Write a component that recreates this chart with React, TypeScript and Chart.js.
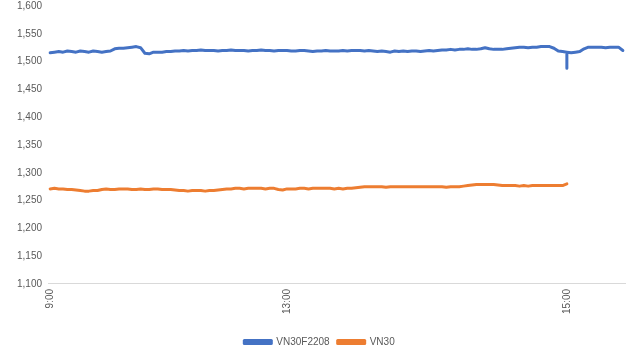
import React, { useEffect, useRef } from "react";
import { Chart, registerables } from "chart.js";

Chart.register(...registerables);

// Category positions (trading-minute index) that carry a time label
const TICK_POSITIONS = [0, 55, 120];
const TICK_LABELS = ["9:00", "13:00", "15:00"];

// VN30F2208 futures price, one value per index (0..133)
const VN30F2208 = [
  1516, 1517, 1518, 1517, 1519, 1518, 1517, 1519, 1518, 1517, 1519, 1518, 1517, 1518, 1519,
  1523, 1524, 1524, 1525, 1526, 1527, 1525,
  1515, 1514, 1517, 1517, 1517, 1518, 1518,
  1519, 1519, 1520, 1519, 1520, 1520, 1521, 1520, 1520, 1520,
  1519, 1520, 1520, 1521, 1520, 1520, 1520, 1519, 1520, 1520,
  1521, 1520, 1520, 1519, 1520, 1520, 1520, 1519, 1519, 1520,
  1520, 1519, 1518, 1519, 1519, 1520, 1519, 1519, 1519,
  1520, 1519, 1520, 1520, 1520, 1519, 1520, 1519,
  1518, 1519, 1518, 1517, 1519, 1518, 1519, 1518, 1519, 1519, 1518, 1519, 1520, 1519,
  1520, 1521, 1521, 1522, 1521, 1522, 1522, 1523,
  1522, 1522, 1523, 1525, 1523, 1522, 1522, 1522, 1523, 1524, 1525, 1526, 1526, 1525, 1526, 1526, 1527, 1527,
  1527, 1524, 1519, 1518,
  1517,
  1516, 1517, 1518, 1523,
  1526, 1526, 1526, 1526, 1525, 1526, 1526, 1526,
  1520,
];

// Brief intra-minute lows of VN30F2208: [index, low]
const VN30F2208_DIPS = [[120, 1488]];

// VN30 index, one value per index (0..120)
const VN30 = [
  1271, 1272, 1271, 1271, 1270, 1270, 1269,
  1268, 1267, 1267, 1268, 1268,
  1270, 1271, 1270, 1270, 1271, 1271, 1271, 1270, 1270, 1271, 1270, 1270, 1271, 1271, 1270, 1270, 1270, 1269,
  1268, 1268, 1267, 1268, 1268, 1268, 1267, 1268, 1268, 1269, 1270,
  1271, 1271, 1272, 1272, 1271, 1272, 1272, 1272, 1272, 1271, 1272, 1272, 1270, 1269, 1271, 1271, 1271, 1272, 1272, 1271, 1272, 1272, 1272, 1272, 1272, 1271,
  1272, 1271, 1272, 1272, 1273, 1274, 1275,
  1275, 1275, 1275, 1275, 1274, 1275, 1275, 1275, 1275, 1275, 1275, 1275, 1275, 1275, 1275, 1275, 1275, 1275, 1274, 1275, 1275, 1275, 1276,
  1277, 1278, 1279, 1279, 1279, 1279, 1279, 1278,
  1277, 1277, 1277, 1277, 1276, 1277, 1276, 1277, 1277, 1277, 1277, 1277, 1277, 1277, 1277,
  1280,
];

const BLUE = "#4472C4";
const ORANGE = "#ED7D31";
const TEXT = "#595959";
const FONT = "'Liberation Sans', Arial, sans-serif";

const legendShift = {
  id: "legendShift",
  afterLayout(chart: any) {
    const lg = chart.legend;
    if (lg) {
      lg.left += 7;
      lg.right += 7;
    }
  },
};

export default function App() {
  const ref = useRef<HTMLCanvasElement>(null);

  useEffect(() => {
    if (!ref.current) return;
    const blueData: { x: number; y: number }[] = [];
    VN30F2208.forEach((v, i) => {
      blueData.push({ x: i, y: v });
      const d = VN30F2208_DIPS.find((p) => p[0] === i);
      if (d) {
        blueData.push({ x: i, y: d[1] });
        blueData.push({ x: i, y: v });
      }
    });
    const orangeData = VN30.map((v, i) => ({ x: i, y: v }));

    const chart = new Chart(ref.current, {
      type: "line",
      plugins: [legendShift],
      data: {
        datasets: [
          {
            label: "VN30F2208",
            data: blueData,
            borderColor: BLUE,
            backgroundColor: BLUE,
            borderWidth: 3,
            pointRadius: 0,
            borderJoinStyle: "round",
            borderCapStyle: "round",
            tension: 0,
          },
          {
            label: "VN30",
            data: orangeData,
            borderColor: ORANGE,
            backgroundColor: ORANGE,
            borderWidth: 3,
            pointRadius: 0,
            borderJoinStyle: "round",
            borderCapStyle: "round",
            tension: 0,
          },
        ],
      },
      options: {
        animation: false,
        responsive: true,
        maintainAspectRatio: false,
        layout: { padding: { left: 0, right: 7, top: 6, bottom: 3 } },
        plugins: {
          tooltip: { enabled: false },
          legend: {
            position: "bottom",
            labels: {
              boxWidth: 27,
              boxHeight: 3,
              color: TEXT,
              font: { family: FONT, size: 10 },
              padding: 8,
            },
          },
        },
        scales: {
          x: {
            type: "linear",
            min: -0.5,
            max: 133.5,
            afterBuildTicks: (s: any) => {
              s.ticks = TICK_POSITIONS.map((v) => ({ value: v }));
            },
            afterFit: (s: any) => {
              s.height = s.height + 10;
              s.paddingLeft = 0;
              s.paddingRight = 0;
            },
            ticks: {
              autoSkip: false,
              minRotation: 90,
              maxRotation: 90,
              color: TEXT,
              font: { family: FONT, size: 10 },
              padding: 5,
              callback: (v: any) => {
                const k = TICK_POSITIONS.indexOf(Number(v));
                return k >= 0 ? TICK_LABELS[k] : "";
              },
            },
            grid: { display: false, drawTicks: false },
            border: { display: true, color: "#d9d9d9", width: 1 },
          },
          y: {
            min: 1100,
            max: 1600,
            ticks: {
              stepSize: 50,
              color: TEXT,
              font: { family: FONT, size: 10 },
              padding: 6,
            },
            grid: { display: false, drawTicks: false },
            border: { display: false },
            afterFit: (s: any) => {
              s.width = 48;
              s.paddingTop = 0;
              s.paddingBottom = 0;
            },
          },
        },
      },
    });
    return () => chart.destroy();
  }, []);

  return (
    <div style={{ position: "fixed", left: 0, top: 0, width: 632, height: 360, background: "#fff" }}>
      <canvas ref={ref} />
    </div>
  );
}
